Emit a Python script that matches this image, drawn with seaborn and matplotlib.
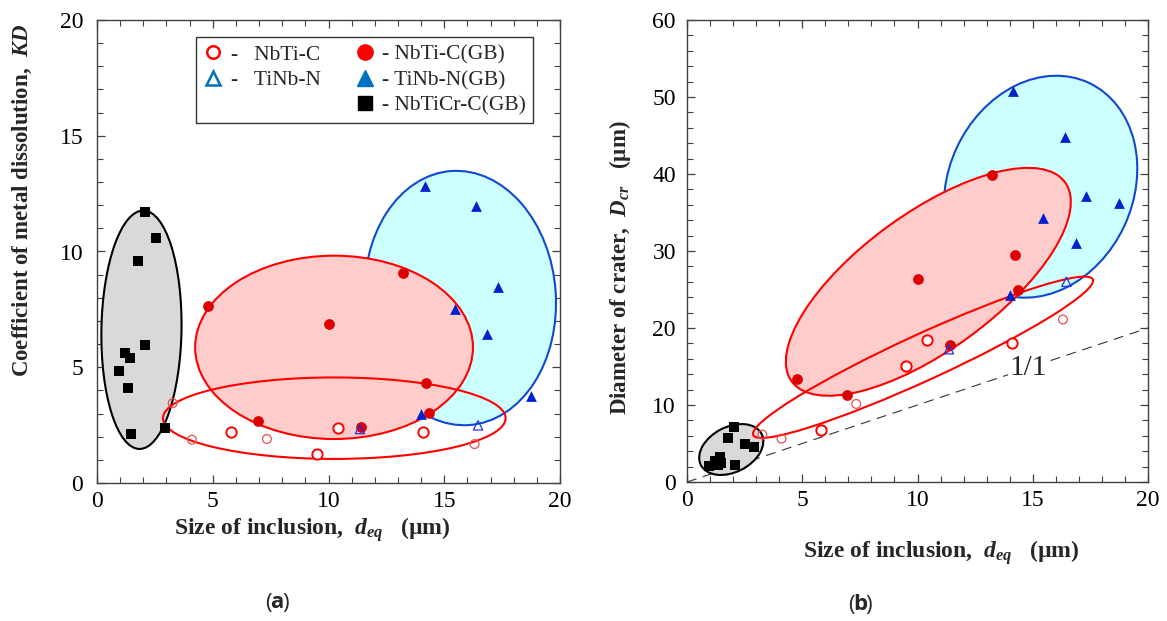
import numpy as np
import matplotlib
matplotlib.use("Agg")
import matplotlib.pyplot as plt
import seaborn as sns
from matplotlib.patches import Ellipse
from matplotlib.lines import Line2D
from matplotlib.transforms import Affine2D
from matplotlib.ticker import MultipleLocator

# Inclusion size d_eq (um), metal dissolution coefficient KD and crater diameter D_cr (um)
# NbTiCr-C(GB)
crc_d = [0.94, 1.21, 1.34, 1.43, 1.47, 1.79, 2.06, 2.07, 2.53, 2.92]
crc_kd = [4.83, 5.60, 4.10, 5.42, 2.12, 9.61, 11.70, 5.97, 10.59, 2.37]
crc_dcr = [2.04, 2.73, 2.20, 3.29, 2.50, 5.75, 7.10, 2.21, 4.98, 4.59]

# NbTi-C(GB)
ncgb_d = [4.78, 6.95, 10.02, 11.39, 13.22, 14.23, 14.34]
ncgb_kd = [7.65, 2.66, 6.86, 2.43, 9.05, 4.30, 3.01]
ncgb_dcr = [13.34, 11.31, 26.30, 17.85, 39.86, 29.51, 24.91]

# NbTi-C (large and small open circles)
nc_d = [5.80, 9.50, 10.40, 14.10]
nc_kd = [2.22, 1.27, 2.39, 2.22]
nc_dcr = [6.80, 15.08, 18.41, 18.07]
nc2_d = [3.27, 4.10, 7.34, 16.31]
nc2_kd = [3.45, 1.87, 1.90, 1.68]
nc2_dcr = [6.15, 5.63, 10.14, 21.10]

# TiNb-N(GB)
tngb_d = [14.00, 14.16, 15.45, 16.38, 16.86, 17.32, 18.73]
tngb_kd = [2.99, 12.83, 7.53, 11.96, 6.43, 8.46, 3.74]
tngb_dcr = [24.26, 50.82, 34.23, 44.80, 30.98, 37.17, 36.18]

# TiNb-N
tn_d = [11.36, 16.46]
tn_kd = [2.33, 2.49]
tn_dcr = [17.24, 26.00]

# group envelopes: centre x, centre y, semi-axes (x units), angle
env_a = {
    "grey": (1.92, 6.62, 5.15, 1.73, 89),
    "blue": (15.69, 7.99, 5.5, 4.13, 94),
    "red": (10.24, 5.86, 6.0, 3.96, 0),
    "open": (10.25, 2.8, 7.4, 1.76, 0),
}
env_b = {
    "grey": (1.92, 4.22, 1.48, 0.98, 27),
    "blue": (15.34, 38.35, 4.96, 4.01, 65),
    "red": (10.47, 26.0, 7.33, 2.97, 36),
    "open": (10.24, 16.2, 8.1, 1.0, 24.6),
}

sns.set_style("ticks")
plt.rcParams["font.family"] = ["Liberation Serif", "DejaVu Serif"]
plt.rcParams["mathtext.fontset"] = "custom"
plt.rcParams["mathtext.it"] = "Liberation Serif:bold:italic"
plt.rcParams["mathtext.rm"] = "Liberation Serif:bold"

RED = "#FF0000"
RED_DARK = "#DD0000"
BLUE = "#0022CC"
BLUE_LEG = "#0070C0"

fig = plt.figure(figsize=(11.67, 6.21), dpi=100)
ax1 = fig.add_axes([97 / 1167, 138 / 621, 463 / 1167, 463 / 621])
ax2 = fig.add_axes([687 / 1167, 139 / 621, 461 / 1167, 462 / 621])


def envelope(ax, spec, k, face, edge, z):
    cx, cy, a, b, ang = spec
    e = Ellipse((cx, cy / k), 2 * a, 2 * b, angle=ang,
                transform=Affine2D().scale(1, k) + ax.transData,
                facecolor=face, edgecolor=edge, lw=1.5, zorder=z)
    ax.add_patch(e)


def panel(ax, env, k, crc, ncgb, nc, nc2, tngb, tn):
    envelope(ax, env["grey"], k, "#D9D9D9", "black", 1)
    envelope(ax, env["blue"], k, "#CCFFFF", "#1048D0", 2)
    envelope(ax, env["red"], k, "#FFCCCC", RED, 3)
    envelope(ax, env["open"], k, "none", RED, 4)

    sns.scatterplot(x=crc_d, y=crc, marker="s", s=55, color="black",
                    edgecolor="black", linewidth=0, ax=ax, zorder=6)
    sns.scatterplot(x=ncgb_d, y=ncgb, marker="o", s=60, color=RED_DARK,
                    edgecolor=RED_DARK, linewidth=0, ax=ax, zorder=6)
    ax.scatter(nc_d, nc, marker="o", s=55, facecolors="white",
               edgecolors=RED, linewidths=1.4, zorder=6)
    ax.scatter(nc2_d, nc2, marker="o", s=40, facecolors="none",
               edgecolors="#E85050", linewidths=0.9, zorder=6)
    sns.scatterplot(x=tngb_d, y=tngb, marker="^", s=60, color=BLUE,
                    edgecolor=BLUE, linewidth=0, ax=ax, zorder=6)
    ax.scatter(tn_d, tn, marker="^", s=45, facecolors="none",
               edgecolors="#2233DD", linewidths=0.9, zorder=6)

    ax.set_xlim(0, 20)
    ax.xaxis.set_major_locator(MultipleLocator(5))
    ax.xaxis.set_minor_locator(MultipleLocator(1))
    ax.tick_params(which="both", direction="in", top=True, right=True,
                   colors="#404040", labelcolor="black")
    ax.tick_params(which="major", length=6, width=0.9, labelsize=17)
    ax.tick_params(which="minor", length=4, width=0.8)
    for sp in ax.spines.values():
        sp.set_color("#404040")
        sp.set_linewidth(1.0)
        sp.set_visible(True)


panel(ax1, env_a, 1, crc_kd, ncgb_kd, nc_kd, nc2_kd, tngb_kd, tn_kd)
panel(ax2, env_b, 3, crc_dcr, ncgb_dcr, nc_dcr, nc2_dcr, tngb_dcr, tn_dcr)

ax1.set_ylim(0, 20)
ax1.yaxis.set_major_locator(MultipleLocator(5))
ax1.yaxis.set_minor_locator(MultipleLocator(1))
ax1.tick_params(axis="y", pad=10)
ax1.tick_params(axis="x", pad=6)

ax2.set_ylim(0, 60)
ax2.yaxis.set_major_locator(MultipleLocator(10))
ax2.yaxis.set_minor_locator(MultipleLocator(2))
ax2.tick_params(axis="y", pad=8)
ax2.tick_params(axis="x", pad=6)

# 1/1 line
ax2.plot([0, 20], [0, 20], color="#333333", lw=0.8, ls=(0, (9, 6)), zorder=0.5)
ax2.text(14.8, 14.77, "1/1", fontsize=21, ha="center", va="center", zorder=0.8,
         bbox=dict(boxstyle="square,pad=0.05", fc="white", ec="none"))

# legend
handles = [
    Line2D([], [], ls="none", marker="o", mfc="none", mec=RED, ms=9, mew=1.8),
    Line2D([], [], ls="none", marker="^", mfc="none", mec=BLUE_LEG, ms=10, mew=1.8),
    Line2D([], [], ls="none", marker=None),
    Line2D([], [], ls="none", marker="o", mfc=RED, mec=RED, ms=11),
    Line2D([], [], ls="none", marker="^", mfc=BLUE_LEG, mec=BLUE_LEG, ms=12),
    Line2D([], [], ls="none", marker="s", mfc="black", mec="black", ms=10),
]
labels = ["-   NbTi-C", "-   TiNb-N", "", "- NbTi-C(GB)", "- TiNb-N(GB)", "- NbTiCr-C(GB)"]
leg = ax1.legend(handles, labels, ncol=2, loc="upper left",
                 bbox_to_anchor=(0.214, 0.963), borderaxespad=0,
                 fontsize=15.5, frameon=True, fancybox=False, framealpha=1,
                 edgecolor="#333333", handlelength=0.9, handletextpad=0.35,
                 columnspacing=1.6, labelspacing=0.25, borderpad=0.35)
leg.get_frame().set_linewidth(1.0)
leg.set_zorder(10)

# axis labels
fig.text(312 / 1167, 1 - 530 / 621, r"Size of inclusion,  $d_{eq}$   (µm)",
         fontsize=17, fontweight="bold", ha="center", va="center")
fig.text(941 / 1167, 1 - 553 / 621, r"Size of inclusion,  $d_{eq}$   (µm)",
         fontsize=17, fontweight="bold", ha="center", va="center")
fig.text(22 / 1167, 1 - 200 / 621, r"Coefficient of metal dissolution,  $KD$",
         fontsize=16.5, fontweight="bold", ha="center", va="center", rotation=90)
fig.text(620 / 1167, 1 - 268 / 621, r"Diameter of crater,  $D_{cr}$   (µm)",
         fontsize=16.5, fontweight="bold", ha="center", va="center", rotation=90)

# panel captions: "(" regular, letter bold, ")" regular
for cx, cy, letter in [(277, 603, "a"), (860, 605, "b")]:
    fx, fy = cx / 1167, 1 - cy / 621
    fig.text(fx, fy, letter, family="Open Sans", fontweight="bold",
             fontsize=16, ha="center", va="center")
    fig.text(fx - 5.5 / 1167, fy, "(", family="Open Sans", fontsize=16,
             ha="right", va="center")
    fig.text(fx + 5.5 / 1167, fy, ")", family="Open Sans", fontsize=16,
             ha="left", va="center")

fig.savefig("out.png", dpi=100)
